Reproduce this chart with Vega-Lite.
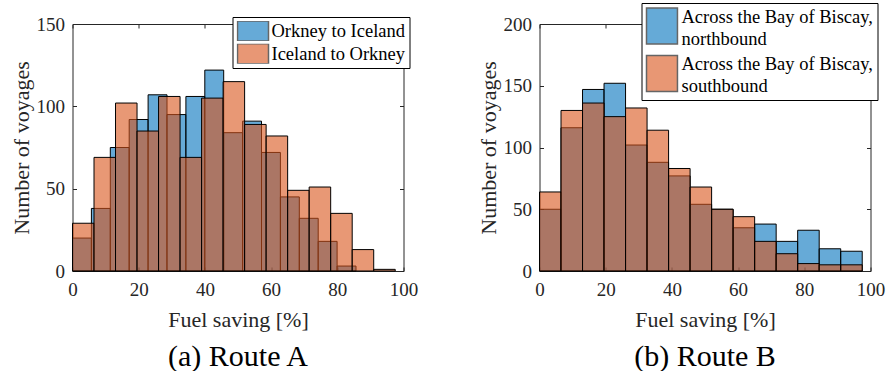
{
  "$schema": "https://vega.github.io/schema/vega-lite/v6.json",
  "padding": {"left": 9.5, "top": 2, "right": 5, "bottom": 2},
  "datasets": {
    "A": [
      {"series": "Orkney to Iceland", "x0": 0, "x1": 5.71, "count": 20},
      {"series": "Orkney to Iceland", "x0": 5.71, "x1": 11.42, "count": 38},
      {"series": "Orkney to Iceland", "x0": 11.42, "x1": 17.13, "count": 75},
      {"series": "Orkney to Iceland", "x0": 17.13, "x1": 22.84, "count": 92},
      {"series": "Orkney to Iceland", "x0": 22.84, "x1": 28.55, "count": 107},
      {"series": "Orkney to Iceland", "x0": 28.55, "x1": 34.26, "count": 95},
      {"series": "Orkney to Iceland", "x0": 34.26, "x1": 39.97, "count": 106},
      {"series": "Orkney to Iceland", "x0": 39.97, "x1": 45.68, "count": 122},
      {"series": "Orkney to Iceland", "x0": 45.68, "x1": 51.39, "count": 84},
      {"series": "Orkney to Iceland", "x0": 51.39, "x1": 57.1, "count": 91},
      {"series": "Orkney to Iceland", "x0": 57.1, "x1": 62.81, "count": 72},
      {"series": "Orkney to Iceland", "x0": 62.81, "x1": 68.52, "count": 45},
      {"series": "Orkney to Iceland", "x0": 68.52, "x1": 74.23, "count": 32},
      {"series": "Orkney to Iceland", "x0": 74.23, "x1": 79.94, "count": 18},
      {"series": "Orkney to Iceland", "x0": 79.94, "x1": 85.65, "count": 3},
      {"series": "Iceland to Orkney", "x0": 0, "x1": 6.5, "count": 29},
      {"series": "Iceland to Orkney", "x0": 6.5, "x1": 13, "count": 69},
      {"series": "Iceland to Orkney", "x0": 13, "x1": 19.5, "count": 102},
      {"series": "Iceland to Orkney", "x0": 19.5, "x1": 26, "count": 85},
      {"series": "Iceland to Orkney", "x0": 26, "x1": 32.5, "count": 106},
      {"series": "Iceland to Orkney", "x0": 32.5, "x1": 39, "count": 69},
      {"series": "Iceland to Orkney", "x0": 39, "x1": 45.5, "count": 105},
      {"series": "Iceland to Orkney", "x0": 45.5, "x1": 52, "count": 115},
      {"series": "Iceland to Orkney", "x0": 52, "x1": 58.5, "count": 89},
      {"series": "Iceland to Orkney", "x0": 58.5, "x1": 65, "count": 82},
      {"series": "Iceland to Orkney", "x0": 65, "x1": 71.5, "count": 49},
      {"series": "Iceland to Orkney", "x0": 71.5, "x1": 78, "count": 51},
      {"series": "Iceland to Orkney", "x0": 78, "x1": 84.5, "count": 35},
      {"series": "Iceland to Orkney", "x0": 84.5, "x1": 91, "count": 13},
      {"series": "Iceland to Orkney", "x0": 91, "x1": 97.5, "count": 1}
    ],
    "B": [
      {"series": "Across the Bay of Biscay, northbound", "x0": 0, "x1": 6.5, "count": 50},
      {"series": "Across the Bay of Biscay, northbound", "x0": 6.5, "x1": 13, "count": 116},
      {"series": "Across the Bay of Biscay, northbound", "x0": 13, "x1": 19.5, "count": 147},
      {"series": "Across the Bay of Biscay, northbound", "x0": 19.5, "x1": 26, "count": 152},
      {"series": "Across the Bay of Biscay, northbound", "x0": 26, "x1": 32.5, "count": 102},
      {"series": "Across the Bay of Biscay, northbound", "x0": 32.5, "x1": 39, "count": 88},
      {"series": "Across the Bay of Biscay, northbound", "x0": 39, "x1": 45.5, "count": 77},
      {"series": "Across the Bay of Biscay, northbound", "x0": 45.5, "x1": 52, "count": 54},
      {"series": "Across the Bay of Biscay, northbound", "x0": 52, "x1": 58.5, "count": 50},
      {"series": "Across the Bay of Biscay, northbound", "x0": 58.5, "x1": 65, "count": 35},
      {"series": "Across the Bay of Biscay, northbound", "x0": 65, "x1": 71.5, "count": 38},
      {"series": "Across the Bay of Biscay, northbound", "x0": 71.5, "x1": 78, "count": 24},
      {"series": "Across the Bay of Biscay, northbound", "x0": 78, "x1": 84.5, "count": 33},
      {"series": "Across the Bay of Biscay, northbound", "x0": 84.5, "x1": 91, "count": 18},
      {"series": "Across the Bay of Biscay, northbound", "x0": 91, "x1": 97.5, "count": 16},
      {"series": "Across the Bay of Biscay, southbound", "x0": 0, "x1": 6.5, "count": 64},
      {"series": "Across the Bay of Biscay, southbound", "x0": 6.5, "x1": 13, "count": 130},
      {"series": "Across the Bay of Biscay, southbound", "x0": 13, "x1": 19.5, "count": 136},
      {"series": "Across the Bay of Biscay, southbound", "x0": 19.5, "x1": 26, "count": 125},
      {"series": "Across the Bay of Biscay, southbound", "x0": 26, "x1": 32.5, "count": 132},
      {"series": "Across the Bay of Biscay, southbound", "x0": 32.5, "x1": 39, "count": 114},
      {"series": "Across the Bay of Biscay, southbound", "x0": 39, "x1": 45.5, "count": 83},
      {"series": "Across the Bay of Biscay, southbound", "x0": 45.5, "x1": 52, "count": 68},
      {"series": "Across the Bay of Biscay, southbound", "x0": 52, "x1": 58.5, "count": 50},
      {"series": "Across the Bay of Biscay, southbound", "x0": 58.5, "x1": 65, "count": 44},
      {"series": "Across the Bay of Biscay, southbound", "x0": 65, "x1": 71.5, "count": 24},
      {"series": "Across the Bay of Biscay, southbound", "x0": 71.5, "x1": 78, "count": 14},
      {"series": "Across the Bay of Biscay, southbound", "x0": 78, "x1": 84.5, "count": 6},
      {"series": "Across the Bay of Biscay, southbound", "x0": 84.5, "x1": 91, "count": 5},
      {"series": "Across the Bay of Biscay, southbound", "x0": 91, "x1": 97.5, "count": 5}
    ]
  },
  "hconcat": [
    {
      "width": 331,
      "height": 247,
      "data": {"name": "A"},
      "title": {"text": "(a) Route A", "orient": "bottom", "offset": 12, "font": "Times New Roman", "fontSize": 30, "fontWeight": "normal", "color": "black"},
      "layer": [
        {
          "transform": [{"filter": "datum.series === 'Orkney to Iceland'"}],
          "mark": {"type": "bar", "fillOpacity": 0.6, "stroke": "black", "strokeWidth": 1},
          "encoding": {
            "x": {"field": "x0", "type": "quantitative", "scale": {"domain": [0, 100], "nice": false},
                  "axis": {"orient": "bottom", "values": [0, 20, 40, 60, 80, 100], "title": "Fuel saving [%]", "labelPadding": 13, "titlePadding": 10, "labelFont": "Times New Roman", "titleFont": "Times New Roman"}},
            "x2": {"field": "x1"},
            "y": {"field": "count", "type": "quantitative", "scale": {"domain": [0, 150], "nice": false},
                  "axis": {"orient": "left", "values": [0, 50, 100, 150], "title": "Number of voyages", "labelPadding": 12, "titlePadding": 3, "labelFont": "Times New Roman", "titleFont": "Times New Roman"}},
            "y2": {"datum": 0},
            "color": {"field": "series", "type": "nominal",
                      "scale": {"domain": ["Orkney to Iceland", "Iceland to Orkney"], "range": ["#0072BD", "#D95319"]},
                      "legend": {"orient": "none", "legendX": 160, "legendY": -7, "title": null,
                                 "symbolType": "M-1,-1H2.1V1H-1Z", "symbolSize": 400, "symbolOpacity": 0.6,
                                 "symbolStrokeColor": "black", "symbolStrokeWidth": 1.5,
                                 "padding": 4, "rowPadding": 2.7, "clipHeight": 20, "labelOffset": 13,
                                 "labelFont": "Times New Roman",
                                 "strokeColor": "black", "fillColor": "white", "labelLimit": 300}}
          }
        },
        {
          "transform": [{"filter": "datum.series === 'Iceland to Orkney'"}],
          "mark": {"type": "bar", "fillOpacity": 0.6, "stroke": "black", "strokeWidth": 1},
          "encoding": {
            "x": {"field": "x0", "type": "quantitative", "scale": {"domain": [0, 100], "nice": false},
                  "axis": {"orient": "top", "values": [0, 20, 40, 60, 80, 100], "title": null, "labels": false}},
            "x2": {"field": "x1"},
            "y": {"field": "count", "type": "quantitative", "scale": {"domain": [0, 150], "nice": false},
                  "axis": {"orient": "right", "values": [0, 50, 100, 150], "title": null, "labels": false}},
            "y2": {"datum": 0},
            "color": {"field": "series", "type": "nominal"}
          }
        }
      ],
      "resolve": {"axis": {"x": "independent", "y": "independent"}}
    },
    {
      "width": 331,
      "height": 247,
      "data": {"name": "B"},
      "title": {"text": "(b) Route B", "orient": "bottom", "offset": 12, "font": "Times New Roman", "fontSize": 30, "fontWeight": "normal", "color": "black"},
      "layer": [
        {
          "transform": [{"filter": "datum.series === 'Across the Bay of Biscay, northbound'"}],
          "mark": {"type": "bar", "fillOpacity": 0.6, "stroke": "black", "strokeWidth": 1},
          "encoding": {
            "x": {"field": "x0", "type": "quantitative", "scale": {"domain": [0, 100], "nice": false},
                  "axis": {"orient": "bottom", "values": [0, 20, 40, 60, 80, 100], "title": "Fuel saving [%]", "labelPadding": 13, "titlePadding": 10, "labelFont": "Times New Roman", "titleFont": "Times New Roman"}},
            "x2": {"field": "x1"},
            "y": {"field": "count", "type": "quantitative", "scale": {"domain": [0, 200], "nice": false},
                  "axis": {"orient": "left", "values": [0, 50, 100, 150, 200], "title": "Number of voyages", "labelPadding": 12, "titlePadding": 3, "labelFont": "Times New Roman", "titleFont": "Times New Roman"}},
            "y2": {"datum": 0},
            "color": {"field": "series", "type": "nominal",
                      "scale": {"domain": ["Across the Bay of Biscay, northbound", "Across the Bay of Biscay, southbound"], "range": ["#0072BD", "#D95319"]},
                      "legend": {"orient": "none", "legendX": 102, "legendY": -21, "title": null,
                                 "symbolType": "M-1,-1H0.72V1H-1Z", "symbolSize": 1296, "symbolOpacity": 0.6,
                                 "symbolStrokeColor": "black", "symbolStrokeWidth": 1.5,
                                 "padding": 4, "rowPadding": 4.5, "labelOffset": -2,
                                 "labelFont": "Times New Roman",
                                 "labelExpr": "[slice(datum.label, 0, 25), slice(datum.label, 26)]",
                                 "strokeColor": "black", "fillColor": "white", "labelLimit": 300,
                                 "encode": {"labels": {"update": {"lineHeight": {"value": 22}, "dy": {"value": -9.5}}}}}}
          }
        },
        {
          "transform": [{"filter": "datum.series === 'Across the Bay of Biscay, southbound'"}],
          "mark": {"type": "bar", "fillOpacity": 0.6, "stroke": "black", "strokeWidth": 1},
          "encoding": {
            "x": {"field": "x0", "type": "quantitative", "scale": {"domain": [0, 100], "nice": false},
                  "axis": {"orient": "top", "values": [0, 20, 40, 60, 80, 100], "title": null, "labels": false}},
            "x2": {"field": "x1"},
            "y": {"field": "count", "type": "quantitative", "scale": {"domain": [0, 200], "nice": false},
                  "axis": {"orient": "right", "values": [0, 50, 100, 150, 200], "title": null, "labels": false}},
            "y2": {"datum": 0},
            "color": {"field": "series", "type": "nominal"}
          }
        }
      ],
      "resolve": {"axis": {"x": "independent", "y": "independent"}}
    }
  ],
  "spacing": 58,
  "resolve": {"scale": {"color": "independent"}, "legend": {"color": "independent"}},
  "config": {
    "font": "Times New Roman",
    "view": {"stroke": null},
    "axis": {
      "grid": false, "domainColor": "#262626", "domainWidth": 1, "tickColor": "#262626", "tickSize": -4,
      "labelColor": "#262626", "titleColor": "#262626",
      "labelFontSize": 19, "titleFontSize": 22, "titleFontWeight": "normal", "labelFlush": false, "labelOverlap": false
    },
    "legend": {"labelFontSize": 18.5, "labelColor": "black"}
  }
}
